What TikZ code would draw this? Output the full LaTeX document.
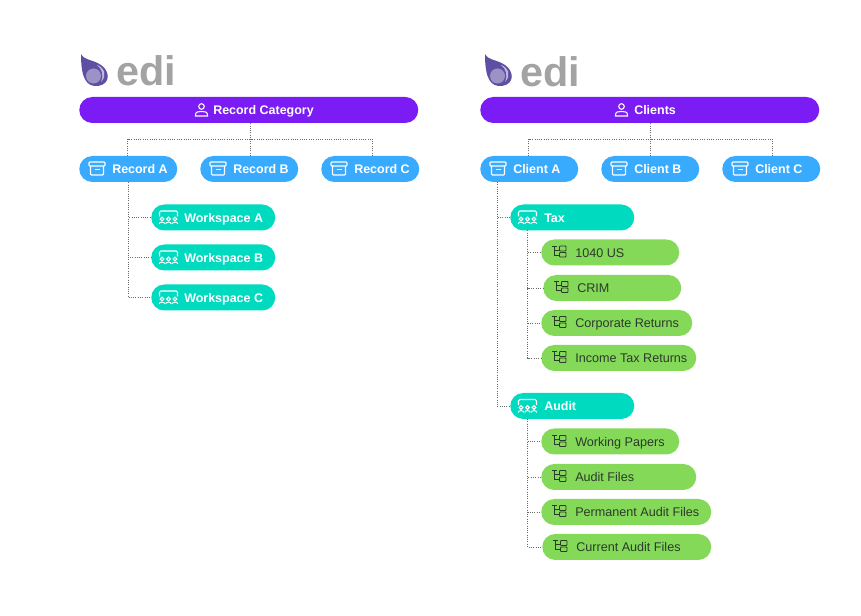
\documentclass[tikz,border=0pt]{standalone}
\usepackage{fontspec}
\setmainfont{Liberation Sans}
\def\px{0.75pt}
\definecolor{cpurple}{HTML}{7A1CF3}
\definecolor{cblue}{HTML}{38ABFF}
\definecolor{cteal}{HTML}{00DBC0}
\definecolor{cgreen}{HTML}{85D958}
\definecolor{cdark}{HTML}{2C3A2C}
\definecolor{cgrey}{HTML}{A3A3A3}
\definecolor{cdrop}{HTML}{5F4FA3}
\definecolor{cline}{HTML}{6A6A6A}
\tikzset{
  pill/.style={anchor=west,rounded corners=13*\px,minimum height=26*\px,inner sep=0pt,
    text height=7pt,text depth=0pt,
    align=flush left,text width=#1*\px,minimum width=#1*\px,font=\fontsize{9.35pt}{11pt}\selectfont\bfseries,text=white},
  catbox/.style={pill=#1,fill=cpurple},
  recbox/.style={pill=#1,fill=cblue},
  wsbox/.style={pill=#1,fill=cteal},
  fldbox/.style={pill=#1,fill=cgreen,text=cdark,font=\fontsize{9.45pt}{11pt}\selectfont},
  conn/.style={draw=cline,line width=0.7pt,densely dotted},
  logotext/.style={anchor=base west,inner sep=0pt,text=cgrey,font=\fontsize{31pt}{32pt}\selectfont\bfseries},
  icoW/.style={draw=white,line width=0.8pt,fill=none},
  icoD/.style={draw=cdark,line width=0.7pt,fill=none},
  drop/.pic={
    \fill[cdrop] (-14,-18) .. controls (-10,-11) and (-3,-13) .. (6,-7)
      .. controls (15,-1) and (16,12) .. (3,14)
      .. controls (-9,15) and (-14,6) .. (-14,-18) -- cycle;
    \fill[cdrop!62!white] (-1.5,4) circle (7.5);
    \fill[cdrop!40!white] (2,-7) .. controls (10,-4) and (12,4) .. (6,10)
      .. controls (9,3) and (7,-3) .. (2,-7) -- cycle;
  },
  person/.pic={
    \draw[icoW] (0,-3.5) circle (2.8);
    \draw[icoW] (-6,6) -- (-6,5) .. controls (-6,1.5) and (-3,1.5) .. (0,1.5)
       .. controls (3,1.5) and (6,1.5) .. (6,5) -- (6,6) -- cycle;
  },
  archive/.pic={
    \draw[icoW,rounded corners=0.6pt] (-8,-6.5) rectangle (8,-2.5);
    \draw[icoW,rounded corners=0.6pt] (-6.5,-2.5) -- (-6.5,6.5) -- (6.5,6.5) -- (6.5,-2.5);
    \draw[icoW] (-2.5,1) -- (2.5,1);
  },
  wsicon/.pic={
    \draw[icoW,rounded corners=1pt] (-9,-1) -- (-9,-6.5) -- (9,-6.5) -- (9,-1);
    \foreach \c in {-6.5,0,6.5}{
      \draw[icoW,line width=0.7pt] (\c,1.5) circle (1.9);
      \draw[icoW,line width=0.7pt] (\c-2.8,6.5) .. controls (\c-2.8,4) and (\c+2.8,4) .. (\c+2.8,6.5);
    }
  },
  fldicon/.pic={
    \draw[icoD] (-7,-5.5) -- (-2.5,-5.5);
    \draw[icoD] (-4.5,-5.5) -- (-4.5,3.5) -- (0.5,3.5);
    \draw[icoD] (-4.5,-1.5) -- (0.5,-1.5);
    \draw[icoD,rounded corners=0.5pt] (0.5,-5.5) rectangle (7,-0.5);
    \draw[icoD,rounded corners=0.5pt] (0.5,1) rectangle (7,5.5);
  },
}
\newcommand{\hs}[1]{\hspace*{\dimexpr#1\dimexpr0.75pt\relax\relax}}
\begin{document}
\begin{tikzpicture}[x=0.75pt,y=-0.75pt]
\useasboundingbox (0,0) rectangle (861,616);
% logos
\pic at (95,72) {drop};
\node[logotext] (logoL) at (116,86) {edi};
\pic at (499,72) {drop};
\node[logotext] (logoR) at (520,87) {edi};
% left tree nodes
\node[catbox=339] (cat) at (79,110) {\hs{134}Record Category};
\node[recbox=98] (ra) at (79,169) {\hs{33}Record A};
\node[recbox=98] (rb) at (200,169) {\hs{33}Record B};
\node[recbox=98] (rc) at (321,169) {\hs{33}Record C};
\node[wsbox=124] (wa) at (151,217.5) {\hs{33}Workspace A};
\node[wsbox=124] (wb) at (151,257.5) {\hs{33}Workspace B};
\node[wsbox=124] (wc) at (151,297.5) {\hs{33}Workspace C};
% right tree nodes
\node[catbox=339] (cli) at (480,110) {\hs{154}Clients};
\node[recbox=98] (ca) at (480,169) {\hs{33}Client A};
\node[recbox=98] (cb) at (601,169) {\hs{33}Client B};
\node[recbox=98] (cc) at (722,169) {\hs{33}Client C};
\node[wsbox=124] (tax) at (510,217.5) {\hs{34}Tax};
\node[wsbox=124] (aud) at (510,406) {\hs{34}Audit};
\node[fldbox=138] (f1) at (541,252.5) {\hs{34}1040 US};
\node[fldbox=138] (f2) at (543,288) {\hs{34}CRIM};
\node[fldbox=151] (f3) at (541,323) {\hs{34}Corporate Returns};
\node[fldbox=155] (f4) at (541,358) {\hs{34}Income Tax Returns};
\node[fldbox=138] (g1) at (541,441.5) {\hs{34}Working Papers};
\node[fldbox=155] (g2) at (541,477) {\hs{34}Audit Files};
\node[fldbox=170] (g3) at (541,512) {\hs{34}Permanent Audit Files};
\node[fldbox=169] (g4) at (542,547) {\hs{34}Current Audit Files};
% icons
\pic at (201.5,110) {person};
\pic at (621.5,110) {person};
\foreach \x in {97,218,339,498,619,740} \pic at (\x,168.5) {archive};
\foreach \y in {217.5,257.5,297.5} \pic at (168.5,\y) {wsicon};
\pic at (527.5,217.5) {wsicon};
\pic at (527.5,406) {wsicon};
\foreach \x/\y in {559/251.5,561/287,559/322,559/357,559/441,559/476,559/511,560/546} \pic at (\x,\y) {fldicon};
% connectors, left
\coordinate (busL) at (250.5,139);
\draw[conn] (cat.south -| busL) -- (busL);
\draw[conn] ([xshift=-0.4pt]ra.north) |- (busL);
\draw[conn] ([xshift=1pt]rb.north) -- ([xshift=1pt]rb.north |- busL);
\draw[conn] ([xshift=1.5pt]rc.north) |- (busL);
\draw[conn] (ra.south) |- (wa.west);
\draw[conn] (ra.south) |- (wb.west);
\draw[conn] (ra.south) |- (wc.west);
% connectors, right
\coordinate (busR) at (650.5,139);
\draw[conn] (cli.south -| busR) -- (busR);
\draw[conn] ([xshift=-0.4pt]ca.north) |- (busR);
\draw[conn] ([xshift=0.4pt]cb.north) -- ([xshift=0.4pt]cb.north |- busR);
\draw[conn] ([xshift=0.8pt]cc.north) |- (busR);
\coordinate (trunk) at (497,182);
\draw[conn] (trunk) |- (tax.west);
\draw[conn] (trunk) |- (aud.west);
\coordinate (tt) at (527.5,230.5);
\coordinate (at) at (527.5,419);
\foreach \n in {f1,f2,f3,f4} \draw[conn] (tt) |- (\n.west);
\foreach \n in {g1,g2,g3,g4} \draw[conn] (at) |- (\n.west);
\end{tikzpicture}
\end{document}
